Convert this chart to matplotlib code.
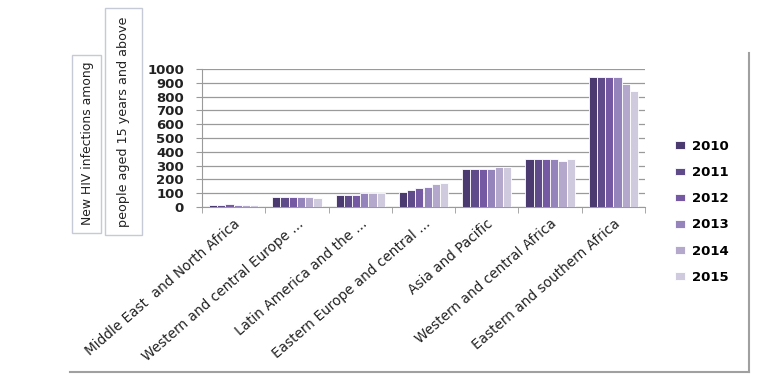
import numpy as np
import matplotlib.pyplot as plt
from matplotlib.lines import Line2D
from matplotlib.patches import Rectangle

regions = ['Middle East  and North Africa', 'Western and central Europe ...',
           'Latin America and the ...', 'Eastern Europe and central ...',
           'Asia and Pacific', 'Western and central Africa',
           'Eastern and southern Africa']
years = ['2010', '2011', '2012', '2013', '2014', '2015']

v2010 = [18, 70, 85, 110, 275, 345, 940]
v2011 = [18, 70, 90, 120, 275, 345, 940]
v2012 = [25, 70, 90, 140, 275, 345, 940]
v2013 = [16, 70, 100, 145, 275, 345, 940]
v2014 = [14, 70, 100, 165, 290, 330, 890]
v2015 = [13, 65, 100, 175, 290, 345, 840]
series = [v2010, v2011, v2012, v2013, v2014, v2015]

colors = ['#4b3a70', '#5f4a8a', '#7659a3', '#9583bb', '#b4a9cd', '#d0cadf']

W, H = 768, 381
fig = plt.figure(figsize=(W / 100, H / 100), dpi=100)
ax = fig.add_axes([202 / W, 1 - 207 / H, 443 / W, 138 / H])

x = np.arange(len(regions))
w = 0.13
for i, vals in enumerate(series):
    ax.bar(x + (i - 2.5) * w, vals, w, color=colors[i], edgecolor='white',
           linewidth=0.6, label=years[i], zorder=3)

ax.set_xlim(-0.5, len(regions) - 0.5)
ax.set_ylim(0, 1000)
ax.set_yticks(range(0, 1001, 100))
ax.set_yticklabels([str(v) for v in range(0, 1001, 100)], fontsize=9.5,
                   fontweight='bold', color='#222222')
ax.grid(axis='y', color='#9a9a9a', linewidth=0.9, zorder=0)
ax.set_axisbelow(True)

ax.set_xticks(np.arange(len(regions) + 1) - 0.5, minor=True)
ax.set_xticks(x)
ax.set_xticklabels(regions, rotation=41, ha='right', rotation_mode='anchor',
                   fontsize=9.8, color='#222222')
ax.tick_params(axis='x', which='major', length=0, pad=7)
ax.tick_params(axis='x', which='minor', length=4, color='#9a9a9a')
ax.tick_params(axis='y', length=4, color='#9a9a9a', pad=9)

for s in ['top', 'right']:
    ax.spines[s].set_visible(False)
for s in ['left', 'bottom']:
    ax.spines[s].set_color('#9a9a9a')

handles, labels = ax.get_legend_handles_labels()
fig.legend(handles, labels, loc='upper left', bbox_to_anchor=(663 / W, 1 - 128 / H),
           frameon=False, handlelength=0.8, handleheight=0.5, labelspacing=1.0,
           handletextpad=0.5, prop={'size': 9.5, 'weight': 'bold'})

# axis title split across two boxed labels
fig.add_artist(Rectangle((72 / W, 1 - 233 / H), 29 / W, 178 / H,
                         facecolor='white', edgecolor='#c5cad6', linewidth=1))
fig.add_artist(Rectangle((105 / W, 1 - 235 / H), 37 / W, 227 / H,
                         facecolor='white', edgecolor='#c5cad6', linewidth=1))
fig.text(87 / W, 1 - 143 / H, 'New HIV infections among', rotation=90,
         ha='center', va='center', fontsize=8.9, color='#222222')
fig.text(124 / W, 1 - 122 / H, 'people aged 15 years and above', rotation=90,
         ha='center', va='center', fontsize=9.2, color='#222222')

# outer chart frame (partly clipped)
fig.add_artist(Line2D([749 / W, 749 / W], [1 - 53 / H, 1 - 372 / H],
                      color='#a0a0a0', linewidth=1.5))
fig.add_artist(Line2D([70 / W, 749 / W], [1 - 372 / H, 1 - 372 / H],
                      color='#a0a0a0', linewidth=1.5))

fig.savefig('out.png', dpi=100)
